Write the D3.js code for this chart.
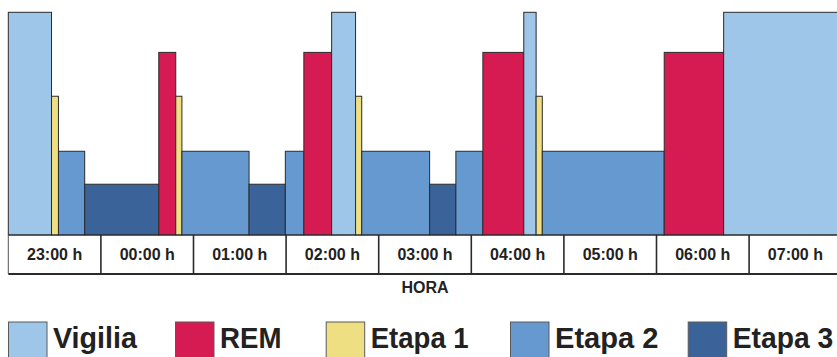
<!DOCTYPE html>
<html>
<head>
<meta charset="utf-8">
<script src="https://cdn.jsdelivr.net/npm/d3@7"></script>
<style>
  html, body { margin: 0; padding: 0; background: #fff; overflow: hidden; }
  svg { display: block; }
  text { font-family: "Liberation Sans", Arial, sans-serif; font-weight: 700; fill: #222; }
</style>
</head>
<body>
<svg id="chart" width="837" height="357"></svg>
<script>
// Sleep stages and their colours
const stageNames  = ["Vigilia", "REM", "Etapa 1", "Etapa 2", "Etapa 3"];
const stageColors = ["#9dc6e8", "#d51b51", "#eedf82", "#6699d0", "#3a6399"];
// Relative height of each stage's bar (Vigilia = 100)
const stageLevels = [100, 82, 62.3, 37.6, 22.8];

// Night sequence: stage of each segment and the minute (from 23:00) where it ends
const segmentStages = [
  "Vigilia", "Etapa 1", "Etapa 2", "Etapa 3", "REM", "Etapa 1", "Etapa 2",
  "Etapa 3", "Etapa 2", "REM", "Vigilia", "Etapa 1", "Etapa 2", "Etapa 3",
  "Etapa 2", "REM", "Vigilia", "Etapa 1", "Etapa 2", "REM", "Vigilia"
];
const segmentEnds = [
  28, 32.5, 49.5, 97.5, 108.5, 112.5, 156,
  179.5, 191.5, 209.5, 225, 229, 273, 290,
  307.5, 334, 342, 346, 425, 463.5, 540
];

// Hour cells along the bottom
const hourLabels = ["23:00 h", "00:00 h", "01:00 h", "02:00 h", "03:00 h",
                    "04:00 h", "05:00 h", "06:00 h", "07:00 h"];
const axisTitle = "HORA";

// Layout
const plotLeft = 8.3, plotRight = 841.7;
const plotTop = 12.3, plotBottom = 235, axisBottomY = 274;

const svg = d3.select("#chart");

const x = d3.scaleLinear().domain([0, hourLabels.length * 60]).range([plotLeft, plotRight]);
const y = d3.scaleLinear().domain([0, 100]).range([plotBottom, plotTop]);
const color = d3.scaleOrdinal().domain(stageNames).range(stageColors);
const level = d3.scaleOrdinal().domain(stageNames).range(stageLevels);
const hours = d3.scaleBand().domain(hourLabels).range([plotLeft, plotRight]);

const segments = segmentStages.map((s, i) => ({
  stage: s,
  start: i === 0 ? 0 : segmentEnds[i - 1],
  end: segmentEnds[i]
}));

// Stage bars
svg.append("g").selectAll("rect")
  .data(segments)
  .join("rect")
  .attr("x", d => x(d.start))
  .attr("width", d => x(d.end) - x(d.start))
  .attr("y", d => y(level(d.stage)))
  .attr("height", d => plotBottom - y(level(d.stage)))
  .attr("fill", d => color(d.stage))
  .attr("stroke", "#2b2b2b")
  .attr("stroke-width", 1);

// Hour cells
const axisG = svg.append("g");
axisG.append("line")
  .attr("x1", plotLeft).attr("x2", plotRight)
  .attr("y1", plotBottom).attr("y2", plotBottom)
  .attr("stroke", "#2b2b2b").attr("stroke-width", 1.2);
axisG.append("line")
  .attr("x1", plotLeft).attr("x2", plotRight)
  .attr("y1", axisBottomY).attr("y2", axisBottomY)
  .attr("stroke", "#2b2b2b").attr("stroke-width", 1.8);
axisG.selectAll("line.sep")
  .data(hourLabels.concat([null]))
  .join("line")
  .attr("class", "sep")
  .attr("x1", (d, i) => i < hourLabels.length ? hours(d) : plotRight)
  .attr("x2", (d, i) => i < hourLabels.length ? hours(d) : plotRight)
  .attr("y1", plotBottom).attr("y2", axisBottomY)
  .attr("stroke", (d, i) => i === 0 ? "#555" : "#2b2b2b")
  .attr("stroke-width", (d, i) => i === 0 ? 1 : 1.6);
axisG.selectAll("text")
  .data(hourLabels)
  .join("text")
  .attr("x", d => hours(d) + hours.bandwidth() / 2)
  .attr("y", 260)
  .attr("text-anchor", "middle")
  .attr("font-size", 16)
  .text(d => d);

svg.append("text")
  .attr("x", (plotLeft + plotRight) / 2)
  .attr("y", 292.7)
  .attr("text-anchor", "middle")
  .attr("font-size", 16)
  .text(axisTitle);

// Legend: condensed labels are drawn by scaling each label horizontally to its width
const legendX = [8, 175, 325.7, 510, 687.7];
const legendTextW = [84, 61.5, 98, 103.5, 100.5];
const legend = svg.append("g").selectAll("g")
  .data(stageNames)
  .join("g")
  .attr("transform", (d, i) => `translate(${legendX[i]},0)`);
legend.append("rect")
  .attr("x", 0.5).attr("y", 322)
  .attr("width", 38.5).attr("height", 45)
  .attr("fill", d => color(d))
  .attr("stroke", "#5a5a5a").attr("stroke-width", 1);
legend.append("text")
  .attr("font-size", 30)
  .text(d => d)
  .attr("transform", function (d, i) {
    const w = this.getComputedTextLength();
    return `translate(45,348.3) scale(${legendTextW[i] / w},1)`;
  });
</script>
</body>
</html>
